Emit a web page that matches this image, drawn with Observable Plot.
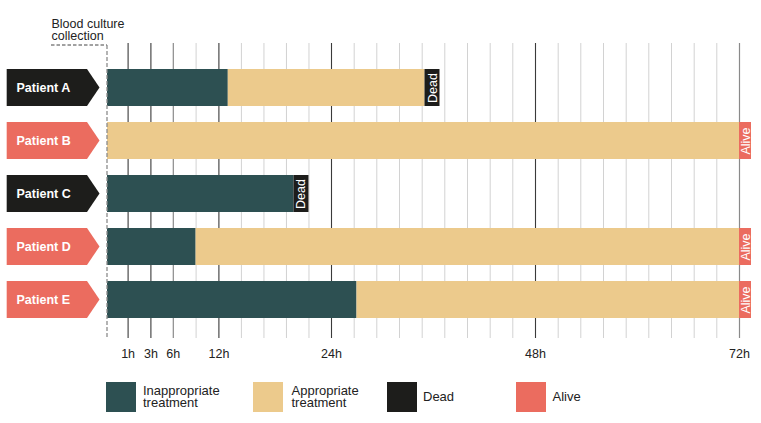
<!DOCTYPE html>
<html><head><meta charset="utf-8">
<script src="https://cdn.jsdelivr.net/npm/d3@7"></script>
<script src="https://cdn.jsdelivr.net/npm/@observablehq/plot@0.6"></script>
<style>
body{margin:0;background:#fff;font-family:"Liberation Sans",Arial,Helvetica,sans-serif;}
#wrap{position:relative;width:761px;height:423px;overflow:hidden;}
.item{position:absolute;top:382px;height:30px;display:flex;align-items:center;}
.sw{width:30px;height:30px;flex:none;}
.lab{font-size:13px;line-height:12px;color:#222;}
</style></head><body><div id="wrap"></div>
<script>
// ---- data ----
const patients = ["Patient A", "Patient B", "Patient C", "Patient D", "Patient E"];
const inappropriateUntil = [13, 0, 20, 9, 27];   // hours of inappropriate treatment
const outcomeAt = [35, 72, 20, 72, 72];          // hour of outcome (end of bar)
const outcomes = ["Dead", "Alive", "Dead", "Alive", "Alive"];
const tickHours = [1, 3, 6, 12, 24, 48, 72];
const darkGridHours = [1, 3, 12, 24, 48];
const midGridHours = [6, 72];
const minorGridHours = [9, 14.4, 16.8, 19.2, 21.6, 26.67, 29.33, 32, 34.67, 37.33, 40, 42.67, 45.33,
  50.67, 53.33, 56, 58.67, 61.33, 64, 66.67, 69.33];
const scaleBreakHours = [0, 1, 3, 6, 12, 24, 48, 72];
const legendLabels = ["Inappropriate<br>treatment", "Appropriate<br>treatment", "Dead", "Alive"];

const colors = {inappropriate: "#2d5052", appropriate: "#ecca8c", dead: "#1d1d1b", alive: "#eb6c5f"};

const rows = patients.map((p, i) => ({patient: p, inapp: inappropriateUntil[i], end: outcomeAt[i], outcome: outcomes[i]}));

function annotations(index, scales) {
  const g = d3.create("svg:g");
  const x0 = scales.x(0);
  const bw = scales.y.bandwidth();
  rows.forEach(r => {
    const top = scales.y(r.patient), bot = top + bw, mid = top + bw / 2;
    const left = x0 - 100.3, shoulder = x0 - 20, tip = x0 - 7.5;
    g.append("path")
      .attr("d", `M${left},${top}H${shoulder}L${tip},${mid}L${shoulder},${bot}H${left}Z`)
      .attr("fill", r.outcome === "Dead" ? colors.dead : colors.alive);
  });
  g.append("path").attr("d", `M${x0 - 56},45H${x0}`)
    .attr("stroke", "#444").attr("stroke-dasharray", "3.5,2").attr("fill", "none");
  g.append("path").attr("d", `M${x0},45V339`)
    .attr("stroke", "#8c8c8c").attr("stroke-width", 1.3).attr("stroke-dasharray", "4,2").attr("fill", "none");
  return g.node();
}

const chart = Plot.plot({
  width: 761, height: 370,
  marginTop: 43, marginBottom: 32, marginLeft: 0, marginRight: 0,
  style: {fontFamily: '"Liberation Sans", Arial, Helvetica, sans-serif', background: "white", overflow: "visible", color: "#222"},
  x: {type: "linear", domain: scaleBreakHours, range: [107, 127.6, 150.4, 172.8, 218.4, 331, 535, 739], axis: null},
  y: {type: "band", domain: patients, range: [60.3, 327.3], paddingInner: 0.3, paddingOuter: 0.15, axis: null},
  marks: [
    Plot.ruleX(minorGridHours, {stroke: "#d2d2d2", strokeWidth: 1}),
    Plot.ruleX(midGridHours, {stroke: "#8a8a8a", strokeWidth: 1.2}),
    Plot.ruleX(darkGridHours, {stroke: "#3a3a3a", strokeWidth: 1.1}),
    Plot.barX(rows.filter(r => r.inapp > 0), {x1: 0, x2: "inapp", y: "patient", fill: colors.inappropriate}),
    Plot.barX(rows.filter(r => r.end > r.inapp), {x1: "inapp", x2: "end", y: "patient", fill: colors.appropriate}),
    Plot.barX(rows.filter(r => r.outcome === "Dead"), {x1: "end", x2: "end", y: "patient", fill: colors.dead, insetRight: -15}),
    Plot.barX(rows.filter(r => r.outcome === "Alive"), {x1: "end", x2: "end", y: "patient", fill: colors.alive, insetRight: -12}),
    Plot.text(rows.filter(r => r.outcome === "Dead"), {x: "end", y: "patient", text: "outcome", dx: 7.5, rotate: -90, fill: "white", fontSize: 12.5}),
    Plot.text(rows.filter(r => r.outcome === "Alive"), {x: "end", y: "patient", text: "outcome", dx: 6, rotate: -90, fill: "white", fontSize: 12.5}),
    annotations,
    Plot.text(rows, {x: 0, y: "patient", text: "patient", dx: -91, textAnchor: "start", fill: "white", fontWeight: "bold", fontSize: 12.5}),
    Plot.text(["Blood culture\ncollection"], {frameAnchor: "top-left", dx: 51, dy: -13, textAnchor: "start", lineAnchor: "middle", lineHeight: 0.92, fontSize: 12.5, fill: "#222"}),
    Plot.axisX({ticks: tickHours, tickFormat: d => d + "h", tickSize: 0, tickPadding: 11, fontSize: 12.5, label: null, fill: "#222"})
  ]
});

const wrap = document.getElementById("wrap");
wrap.appendChild(chart);
const legendColors = [colors.inappropriate, colors.appropriate, colors.dead, colors.alive];
const legendLeft = [106, 253, 387, 516];
const legendGap = [7, 8.5, 6, 6.5];
legendLabels.forEach((l, i) => {
  const it = document.createElement("div");
  it.className = "item";
  it.style.left = legendLeft[i] + "px";
  it.innerHTML = `<div class="sw" style="background:${legendColors[i]}"></div><div class="lab" style="margin-left:${legendGap[i]}px">${l}</div>`;
  wrap.appendChild(it);
});
</script></body></html>
